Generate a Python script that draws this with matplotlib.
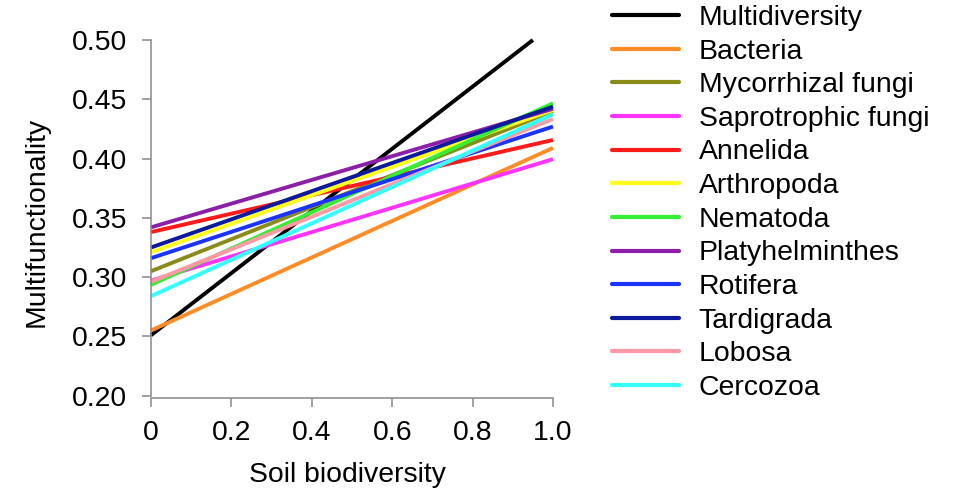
import matplotlib
matplotlib.use("Agg")
import matplotlib.pyplot as plt

names = ["Multidiversity", "Bacteria", "Mycorrhizal fungi", "Saprotrophic fungi",
         "Annelida", "Arthropoda", "Nematoda", "Platyhelminthes", "Rotifera",
         "Tardigrada", "Lobosa", "Cercozoa"]
colors = ["#000000", "#ff8c26", "#8b8b1a", "#ff33ff", "#ff1a1a", "#ffff1a",
          "#33ee33", "#8c1fa8", "#1a33ff", "#0d1a99", "#ff99a6", "#33ffff"]
x_start = [0, 0, 0, 0, 0, 0, 0, 0, 0, 0, 0, 0]
x_end = [0.95, 1, 1, 1, 1, 1, 1, 1, 1, 1, 1, 1]
y_start = [0.251, 0.255, 0.305, 0.297, 0.338, 0.321, 0.2935, 0.342, 0.316, 0.325, 0.296, 0.284]
y_end = [0.500, 0.409, 0.440, 0.3995, 0.4157, 0.441, 0.4466, 0.442, 0.427, 0.4438, 0.4334, 0.4374]
xticks = [0, 0.2, 0.4, 0.6, 0.8, 1.0]
xticklabels = ["0", "0.2", "0.4", "0.6", "0.8", "1.0"]
yticks = [0.20, 0.25, 0.30, 0.35, 0.40, 0.45, 0.50]
yticklabels = ["0.20", "0.25", "0.30", "0.35", "0.40", "0.45", "0.50"]

plt.rcParams['font.family'] = ['Liberation Sans', 'DejaVu Sans']
FS = 20.4

fig = plt.figure(figsize=(9.56, 4.90), dpi=100)
ax = fig.add_axes([151/956, 1 - 395.7/490, 402/956, 355.7/490])

for i in range(len(names)):
    ax.plot([x_start[i], x_end[i]], [y_start[i], y_end[i]], color=colors[i],
            lw=2.8, label=names[i], clip_on=False, solid_capstyle='butt')

ax.set_xlim(0, 1)
ax.set_ylim(0.2, 0.5)
for s in ['top', 'right']:
    ax.spines[s].set_visible(False)
for s in ['left', 'bottom']:
    ax.spines[s].set_color('#888888')
    ax.spines[s].set_linewidth(1.1)
ax.spines['bottom'].set_position(('outward', 1.5))
ax.set_xticks(xticks)
ax.set_xticklabels(xticklabels)
ax.set_yticks(yticks)
ax.set_yticklabels(yticklabels)
ax.tick_params(axis='both', colors='#888888', labelcolor='black', labelsize=FS,
               length=6.5, width=1.1)
ax.tick_params(axis='x', pad=9.5)
ax.tick_params(axis='y', pad=10.5)

ax.set_xlabel("Soil biodiversity", fontsize=FS)
ax.xaxis.set_label_coords(0.489, -0.187)
ax.set_ylabel("Multifunctionality", fontsize=FS)
ax.yaxis.set_label_coords(-0.253, 0.489)

leg = fig.legend(loc='upper left', bbox_to_anchor=(612/956, 0.990), frameon=False,
                 fontsize=FS, handlelength=2.36, handletextpad=0.70,
                 labelspacing=0.27, borderpad=0, borderaxespad=0)
for h in leg.get_lines():
    h.set_linewidth(3.0)
    h.set_solid_capstyle('round')

fig.savefig("out.png", dpi=100)
